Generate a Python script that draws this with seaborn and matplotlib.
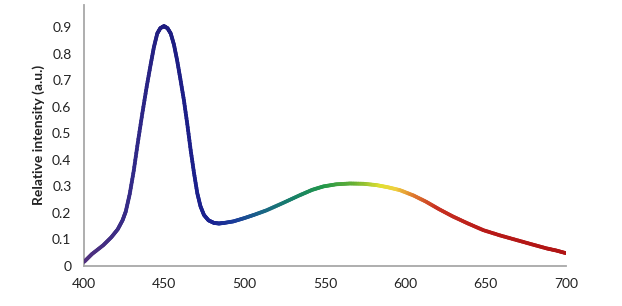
import numpy as np
import pandas as pd
import matplotlib
matplotlib.use("Agg")
import matplotlib.pyplot as plt
import seaborn as sns
from matplotlib.collections import LineCollection
from matplotlib.colors import LinearSegmentedColormap
from matplotlib.ticker import FuncFormatter

# Data
wavelength = [400, 405, 412, 417, 421, 424, 426, 428.5, 431, 433.5, 436.3, 439, 441.5, 443.5, 445.6,
              447.5, 449.8, 452, 454, 456, 458, 460, 462.2, 464.3, 466.4, 468.5, 470.5, 472.5,
              474.7, 477.5, 481, 484, 487, 493, 499.6, 506, 513.7, 524, 534.4, 542, 549, 557,
              565.5, 574, 582, 589, 596.6, 605, 613, 621, 629.8, 639, 648.5, 659, 669, 679, 688, 694, 700]
intensity = [0.015, 0.045, 0.078, 0.108, 0.138, 0.172, 0.205, 0.272, 0.36, 0.465, 0.575, 0.675, 0.76, 0.825, 0.877,
             0.897, 0.905, 0.897, 0.877, 0.835, 0.775, 0.705, 0.625, 0.535, 0.437, 0.35, 0.275, 0.225,
             0.192, 0.172, 0.162, 0.16, 0.162, 0.168, 0.18, 0.193, 0.21, 0.238, 0.267, 0.287, 0.30, 0.308,
             0.311, 0.31, 0.305, 0.297, 0.286, 0.266, 0.242, 0.214, 0.186, 0.16, 0.135, 0.115, 0.098, 0.081, 0.066, 0.058, 0.048]

x_ticks = [400, 450, 500, 550, 600, 650, 700]
y_ticks = [0, 0.1, 0.2, 0.3, 0.4, 0.5, 0.6, 0.7, 0.8, 0.9]
y_label = "Relative intensity (a.u.)"

df = pd.DataFrame({"wavelength": wavelength, "intensity": intensity})

sns.set_style("white")
plt.rcParams["font.family"] = ["Lato", "DejaVu Sans"]

fig = plt.figure(figsize=(6.22, 3.06), dpi=100)
ax = fig.add_axes([0.135, 0.131, 0.775, 0.853])

sns.lineplot(data=df, x="wavelength", y="intensity", ax=ax, color="k", linewidth=2.6)

# Recolour the seaborn line with a spectral gradient
line = ax.lines[0]
xy = line.get_xydata()
line.remove()
fine_x, fine_y = [], []
for i in range(len(xy) - 1):
    t = np.linspace(0, 1, 8, endpoint=False)
    fine_x.extend(xy[i, 0] + t * (xy[i + 1, 0] - xy[i, 0]))
    fine_y.extend(xy[i, 1] + t * (xy[i + 1, 1] - xy[i, 1]))
fine_x.append(xy[-1, 0]); fine_y.append(xy[-1, 1])
pts = np.column_stack([fine_x, fine_y]).reshape(-1, 1, 2)
segs = np.concatenate([pts[:-1], pts[1:]], axis=1)

stops = [(400, "#52307e"), (430, "#322a88"), (450, "#1e1c80"), (480, "#1a2292"),
         (495, "#1a3e9a"), (510, "#1a6488"), (530, "#18806a"), (550, "#22984a"),
         (570, "#6cb232"), (585, "#dfe030"), (595, "#f0d040"), (605, "#e08030"),
         (620, "#c83222"), (650, "#b81a18"), (700, "#b01414")]
cmap = LinearSegmentedColormap.from_list(
    "spec", [((w - 400) / 300, c) for w, c in stops])
mid = (segs[:, 0, 0] + segs[:, 1, 0]) / 2
lc = LineCollection(segs, colors=cmap((mid - 400) / 300), linewidth=2.7,
                    capstyle="round", joinstyle="round", zorder=3)
ax.add_collection(lc)

ax.set_xlim(400, 700)
ax.set_ylim(0, 0.985)
ax.set_xticks(x_ticks)
ax.set_yticks(y_ticks)
ax.yaxis.set_major_formatter(FuncFormatter(lambda v, p: "0" if v == 0 else f"{v:.1f}"))
ax.tick_params(axis="both", length=0, labelsize=10, colors="#222222")
ax.tick_params(axis="x", pad=9)
ax.tick_params(axis="y", pad=9)
ax.set_xlabel("")
ax.set_ylabel(y_label, fontsize=10, fontweight="bold", color="#222222", labelpad=5)
for s in ["top", "right"]:
    ax.spines[s].set_visible(False)
for s in ["left", "bottom"]:
    ax.spines[s].set_color("#a8a8a8")
    ax.spines[s].set_linewidth(1.3)

fig.savefig("out.png", dpi=100)
